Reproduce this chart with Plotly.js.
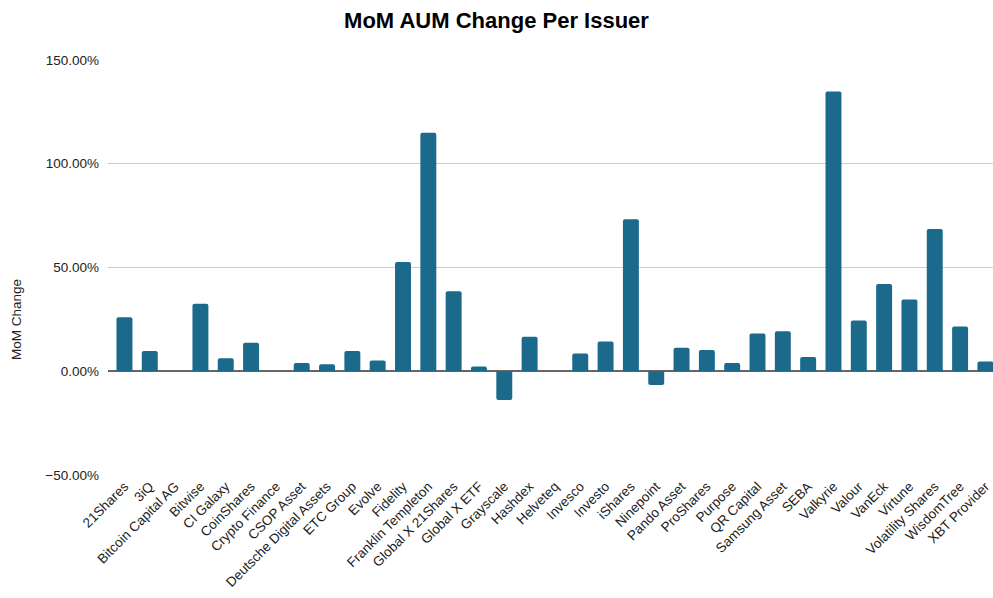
<!DOCTYPE html>
<html>
<head>
<meta charset="utf-8">
<script src="https://cdn.plot.ly/plotly-3.0.1.min.js"></script>
<style>html,body{margin:0;padding:0;background:#fff;}#chart{width:993px;height:598px;}</style>
</head>
<body>
<div id="chart"></div>
<script>
const issuers = ["21Shares","3iQ","Bitcoin Capital AG","Bitwise","CI Galaxy","CoinShares","Crypto Finance","CSOP Asset","Deutsche Digital Assets","ETC Group","Evolve","Fidelity","Franklin Templeton","Global X 21Shares","Global X ETF","Grayscale","Hashdex","Helveteq","Invesco","Investo","iShares","Ninepoint","Pando Asset","ProShares","Purpose","QR Capital","Samsung Asset","SEBA","Valkyrie","Valour","VanEck","Virtune","Volatility Shares","WisdomTree","XBT Provider"];
const momChange = [0.260,0.098,0,0.325,0.063,0.137,0,0.040,0.034,0.098,0.052,0.526,1.150,0.386,0.023,-0.138,0.166,0,0.085,0.143,0.732,-0.066,0.113,0.103,0.040,0.182,0.193,0.069,1.348,0.245,0.420,0.346,0.685,0.216,0.047];
const yTicks = [-0.5,0,0.5,1,1.5];
const yTitle = 'MoM Change';

const trace = {
  type: 'bar',
  x: issuers,
  y: momChange,
  marker: {color: '#1b6a8c'},
  hoverinfo: 'x+y'
};

const layout = {
  width: 993, height: 598,
  margin: {l: 108, r: 0, t: 60, b: 123},
  paper_bgcolor: '#fff', plot_bgcolor: '#fff',
  font: {family: 'Liberation Sans, Arial, sans-serif', size: 13.5, color: '#222'},
  title: {text: '<b>MoM AUM Change Per Issuer</b>', x: 0.5, xanchor: 'center', y: 0.966, yanchor: 'middle',
          font: {family: 'Liberation Sans, Arial, sans-serif', size: 22, color: '#000'}},
  bargap: 0.37,
  barcornerradius: 2,
  showlegend: false,
  xaxis: {
    type: 'category',
    range: [-0.65, 34.3],
    tickangle: -45,
    tickfont: {size: 13.5, color: '#222'},
    showgrid: false, zeroline: false, showline: false, ticks: ''
  },
  yaxis: {
    range: [-0.5, 1.5],
    tickvals: yTicks,
    tickformat: '.2%',
    tickfont: {size: 13.5, color: '#222'},
    ticklabelstandoff: 8,
    gridcolor: '#cccccc', gridwidth: 1,
    zeroline: true, zerolinecolor: '#666666', zerolinewidth: 2,
    showline: false
  },
  annotations: [{
    text: yTitle, textangle: -90, showarrow: false,
    xref: 'paper', yref: 'paper', x: -0.1028, y: 0.3735,
    xanchor: 'center', yanchor: 'middle',
    font: {size: 13.5, color: '#222'}
  }]
};

Plotly.newPlot('chart', [trace], layout, {displayModeBar: false, staticPlot: true});
</script>
</body>
</html>
